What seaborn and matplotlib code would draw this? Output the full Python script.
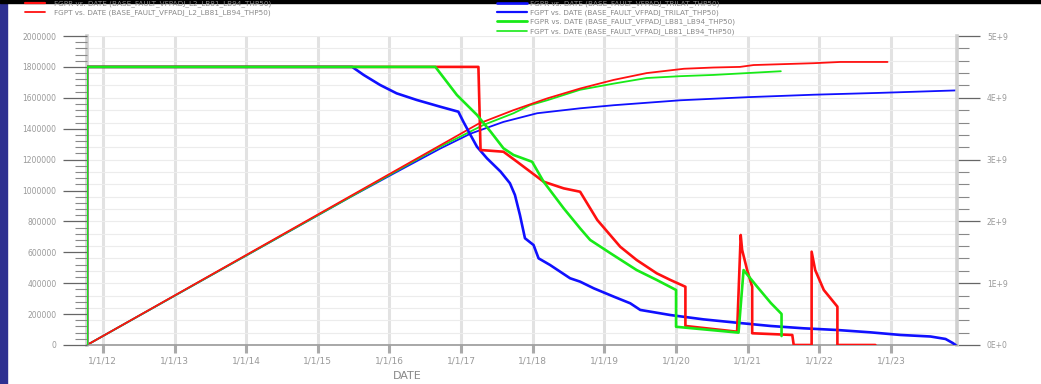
import numpy as np
import pandas as pd
import matplotlib
matplotlib.use("Agg")
import matplotlib.pyplot as plt
import matplotlib.dates as mdates
from matplotlib.ticker import MultipleLocator, FuncFormatter
from matplotlib.lines import Line2D
from matplotlib.patches import Rectangle
import seaborn as sns

# ---------------- data (decimal years) ----------------
blue_rate_t = [2011.78, 2011.78, 2015.48, 2015.64, 2015.87, 2016.10, 2016.38, 2016.71, 2016.96,
               2017.03, 2017.13, 2017.22, 2017.36, 2017.55, 2017.68, 2017.75, 2017.82, 2017.89,
               2018.01, 2018.08, 2018.24, 2018.52, 2018.66, 2018.85, 2019.13, 2019.36, 2019.50,
               2019.92, 2020.38, 2020.85, 2021.32, 2021.78, 2022.25, 2022.71, 2023.13, 2023.55,
               2023.76, 2023.86, 2023.90]
blue_rate_v = [0, 1800000, 1800000, 1748000, 1683000, 1629000, 1586000, 1542000, 1510000,
               1445000, 1359000, 1283000, 1208000, 1122000, 1047000, 971000, 841000, 691000,
               647000, 561000, 518000, 432000, 410000, 367000, 313000, 270000, 227000,
               194000, 166000, 144000, 123000, 108000, 97000, 82000, 65000, 55000,
               39000, 13000, 0]

green_rate_t = [2011.78, 2011.78, 2016.64, 2016.94, 2017.22, 2017.41, 2017.59, 2017.73, 2017.99,
                2018.15, 2018.43, 2018.66, 2018.80, 2019.08, 2019.45, 2019.73, 2020.00, 2020.00,
                2020.87, 2020.94, 2021.13, 2021.32, 2021.47, 2021.47]
green_rate_v = [0, 1800000, 1800000, 1618000, 1489000, 1381000, 1273000, 1230000, 1186000,
                1057000, 885000, 755000, 680000, 595000, 485000, 421000, 356000, 118000,
                80000, 485000, 377000, 272000, 201000, 58000]

red_rate_t = [2011.78, 2011.78, 2017.24, 2017.27, 2017.59, 2017.78, 2018.15, 2018.43, 2018.66,
              2018.90, 2019.22, 2019.45, 2019.73, 2019.92, 2020.13, 2020.13, 2020.85, 2020.90,
              2020.92, 2020.99, 2021.06, 2021.06, 2021.62, 2021.64, 2021.89, 2021.89, 2021.94,
              2022.06, 2022.25, 2022.25, 2022.78]
red_rate_v = [0, 1800000, 1800000, 1262000, 1251000, 1186000, 1057000, 1014000, 992000,
              809000, 636000, 550000, 464000, 421000, 377000, 123000, 86000, 712000,
              615000, 485000, 377000, 76000, 65000, 0, 0, 604000, 485000,
              356000, 248000, 0, 0]

green_cum_t = [2011.78, 2016.64, 2017.31, 2017.73, 2017.96, 2018.20, 2018.66, 2019.13, 2019.59,
               2020.06, 2020.52, 2020.99, 2021.46]
green_cum_v = [0, 3.17e9, 3.56e9, 3.75e9, 3.88e9, 3.96e9, 4.13e9, 4.23e9, 4.32e9,
               4.35e9, 4.37e9, 4.40e9, 4.43e9]

red_cum_t = [2011.78, 2017.24, 2017.73, 2018.20, 2018.66, 2019.13, 2019.59, 2020.11, 2020.52,
             2020.89, 2021.08, 2021.92, 2022.29, 2022.95]
red_cum_v = [0, 3.58e9, 3.80e9, 3.99e9, 4.15e9, 4.29e9, 4.40e9, 4.47e9, 4.49e9,
             4.50e9, 4.53e9, 4.56e9, 4.58e9, 4.58e9]

blue_cum_t = [2011.78, 2015.48, 2016.10, 2016.71, 2017.13, 2017.59, 2018.06, 2018.66, 2019.13,
              2020.06, 2020.99, 2021.92, 2022.85, 2023.92]
blue_cum_v = [0, 2.41e9, 2.80e9, 3.18e9, 3.42e9, 3.61e9, 3.75e9, 3.83e9, 3.88e9,
              3.96e9, 4.01e9, 4.05e9, 4.08e9, 4.12e9]

x_range = [2011.78, 2023.92]

legend_left = ["FGPR vs. DATE (BASE_FAULT_VFPADJ_L2_LB81_LB94_THP50)",
               "FGPT vs. DATE (BASE_FAULT_VFPADJ_L2_LB81_LB94_THP50)"]
legend_right = ["FGPR vs. DATE (BASE_FAULT_VFPADJ_TRILAT_THP50)",
                "FGPT vs. DATE (BASE_FAULT_VFPADJ_TRILAT_THP50)",
                "FGPR vs. DATE (BASE_FAULT_VFPADJ_LB81_LB94_THP50)",
                "FGPT vs. DATE (BASE_FAULT_VFPADJ_LB81_LB94_THP50)"]
x_label = "DATE"

RED, BLUE, GREEN = "#ff1010", "#1010ff", "#18ea18"


def to_dt(y):
    year = int(np.floor(y))
    start = pd.Timestamp(year, 1, 1)
    end = pd.Timestamp(year + 1, 1, 1)
    return start + (end - start) * (y - year)


def frame(t, v):
    return pd.DataFrame({"date": [to_dt(x) for x in t], "val": v})


sns.set_style("white")
plt.rcParams["font.family"] = ["DejaVu Sans"]

W, H = 1041, 384
fig = plt.figure(figsize=(W / 100, H / 100), dpi=100)
ax_c = fig.add_axes([87 / W, 39 / H, 870 / W, 309 / H])
ax_r = ax_c.twinx()
# cumulative axis on the right, rate axis on the left
ax_c.yaxis.tick_right()
ax_c.yaxis.set_label_position("right")
ax_r.yaxis.tick_left()
ax_r.yaxis.set_label_position("left")

ax_c.set_axisbelow(True)

# cumulative curves
for t, v, c in [(blue_cum_t, blue_cum_v, BLUE), (green_cum_t, green_cum_v, GREEN),
                (red_cum_t, red_cum_v, RED)]:
    sns.lineplot(data=frame(t, v), x="date", y="val", ax=ax_c, color=c, lw=1.3,
                 sort=False, estimator=None)

# rate curves
for t, v, c in [(blue_rate_t, blue_rate_v, BLUE), (red_rate_t, red_rate_v, RED),
                (green_rate_t, green_rate_v, GREEN)]:
    sns.lineplot(data=frame(t, v), x="date", y="val", ax=ax_r, color=c, lw=1.9,
                 sort=False, estimator=None)

ax_c.set_xlim(to_dt(x_range[0]), to_dt(x_range[1]))
ax_c.set_ylim(0, 5e9)
ax_r.set_ylim(0, 2e6)

# x axis
ax_c.xaxis.set_major_locator(mdates.YearLocator())
ax_c.xaxis.set_major_formatter(FuncFormatter(
    lambda v, p: "{d.month}/{d.day}/{y:02d}".format(d=mdates.num2date(v), y=mdates.num2date(v).year % 100)))
ax_c.tick_params(axis="x", direction="out", length=6, width=2.2, color="#aaaaaa",
                 labelsize=6.5, labelcolor="#999999", pad=2, bottom=True)
ax_c.set_xlabel(x_label, fontsize=8, color="#888888")
ax_c.xaxis.set_label_coords((407 - 87) / 870, -0.085)


def sci(v, p):
    if v == 0:
        return "0E+0"
    e = int(np.floor(np.log10(abs(v)) + 1e-9))
    m = v / 10 ** e
    return "{:g}E+{}".format(round(m, 3), e)


# right (cumulative) y axis
ax_c.yaxis.set_major_locator(MultipleLocator(1e9))
ax_c.yaxis.set_minor_locator(MultipleLocator(2e8))
ax_c.yaxis.set_major_formatter(FuncFormatter(sci))
ax_c.tick_params(axis="y", which="major", direction="out", length=16.5, width=0.9,
                 color="#666666", labelsize=5.5, labelcolor="#999999", pad=5,
                 right=True, left=False)
ax_c.tick_params(axis="y", which="minor", direction="out", length=8.5, width=0.8,
                 color="#888888", right=True, left=False)

# left (rate) y axis
ax_r.yaxis.set_major_locator(MultipleLocator(200000))
ax_r.yaxis.set_minor_locator(MultipleLocator(40000))
ax_r.yaxis.set_major_formatter(FuncFormatter(lambda v, p: "{:d}".format(int(round(v)))))
ax_r.tick_params(axis="y", which="major", direction="out", length=17, width=0.9,
                 color="#666666", labelsize=5.5, labelcolor="#999999", pad=5,
                 left=True, right=False)
ax_r.tick_params(axis="y", which="minor", direction="out", length=8.5, width=0.8,
                 color="#888888", left=True, right=False)

for a in (ax_c, ax_r):
    a.set_ylabel("")
ax_r.set_xlabel("")

ax_c.grid(axis="x", which="major", color="#e2e2e2", lw=2.2)
ax_c.grid(axis="y", which="both", color="#ececec", lw=0.8)

for s in ("left", "right"):
    ax_c.spines[s].set_color("#d0d0d0")
    ax_c.spines[s].set_linewidth(2.6)
ax_c.spines["bottom"].set_color("#999999")
ax_c.spines["bottom"].set_linewidth(1.2)
ax_c.spines["top"].set_visible(False)
for s in ax_r.spines.values():
    s.set_visible(False)

# outer frame decorations (drawn beneath the legends)
fig.add_artist(Rectangle((0, 0), 7 / W, 1, transform=fig.transFigure,
                         color="#2e3091", zorder=1))
fig.add_artist(Rectangle((0, 1 - 3 / H), 1, 3 / H, transform=fig.transFigure,
                         color="#000000", zorder=1))

# legends
lh = [Line2D([], [], color=RED, lw=1.6), Line2D([], [], color=RED, lw=1.3)]
leg1 = fig.legend(lh, legend_left, loc="upper left", bbox_to_anchor=(25 / W, 1.0),
                  frameon=False, fontsize=5.2, labelspacing=0.35, handlelength=2.7,
                  handletextpad=1.3, borderpad=0, borderaxespad=0, labelcolor="#888888")
rh = [Line2D([], [], color=BLUE, lw=1.9), Line2D([], [], color=BLUE, lw=1.6),
      Line2D([], [], color=GREEN, lw=2.0), Line2D([], [], color=GREEN, lw=1.2)]
leg2 = fig.legend(rh, legend_right, loc="upper left", bbox_to_anchor=(497 / W, 1.0),
                  frameon=False, fontsize=5.2, labelspacing=0.35, handlelength=4.1,
                  handletextpad=0.4, borderpad=0, borderaxespad=0, labelcolor="#888888")
leg1.set_zorder(5)
leg2.set_zorder(5)

fig.savefig("out.png", dpi=100)
